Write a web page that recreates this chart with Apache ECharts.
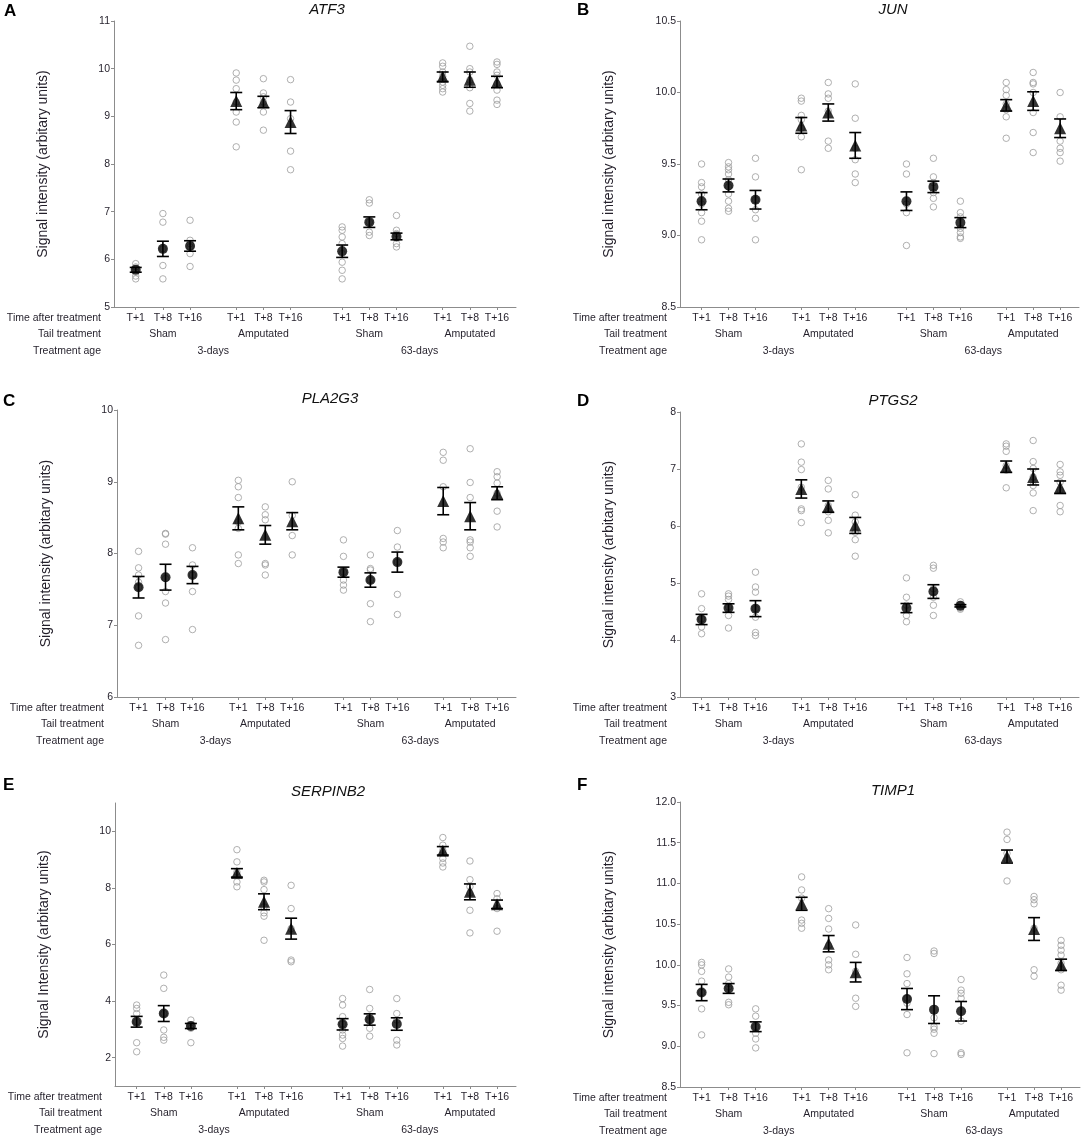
<!DOCTYPE html>
<html>
<head>
<meta charset="utf-8">
<script src="https://cdn.jsdelivr.net/npm/echarts@6/dist/echarts.min.js"></script>
<style>
  html, body { margin: 0; padding: 0; background: #fff; }
  #chart { width: 1084px; height: 1140px; }
</style>
</head>
<body>
<div id="chart"></div>
<script>
// x positions of the 12 groups (gaps between the 4 treatment blocks)
var positions = [1, 2, 3, 4.7, 5.7, 6.7, 8.6, 9.6, 10.6, 12.3, 13.3, 14.3];
var timeLabels = ['T+1', 'T+8', 'T+16', 'T+1', 'T+8', 'T+16', 'T+1', 'T+8', 'T+16', 'T+1', 'T+8', 'T+16'];
var tailPositions = [2, 5.7, 9.6, 13.3];
var tailLabels = ['Sham', 'Amputated', 'Sham', 'Amputated'];
var agePositions = [3.85, 11.45];
var ageLabels = ['3-days', '63-days'];
var amputated = [false, false, false, true, true, true, false, false, false, true, true, true];

// ATF3
var atf3Points = [
  [5.91, 5.84, 5.80, 5.73, 5.65, 5.59],
  [6.96, 6.78, 6.22, 5.87, 5.59],
  [6.82, 6.40, 6.33, 6.26, 6.12, 5.85],
  [9.91, 9.76, 9.58, 9.30, 9.09, 8.88, 8.36],
  [9.79, 9.49, 9.41, 9.30, 9.09, 8.71],
  [9.77, 9.30, 8.95, 8.27, 7.88],
  [6.68, 6.61, 6.47, 6.33, 6.12, 5.94, 5.77, 5.59],
  [7.25, 7.18, 6.78, 6.57, 6.50],
  [6.92, 6.61, 6.54, 6.47, 6.33, 6.26],
  [10.12, 10.05, 9.93, 9.84, 9.72, 9.65, 9.58, 9.51],
  [10.47, 10.00, 9.93, 9.76, 9.60, 9.27, 9.11],
  [10.14, 10.09, 9.93, 9.86, 9.69, 9.55, 9.34, 9.25]
];
var atf3Mean = [5.78, 6.22, 6.28, 9.32, 9.30, 8.88, 6.17, 6.78, 6.48, 9.83, 9.77, 9.72];
var atf3Se = [0.05, 0.16, 0.11, 0.18, 0.12, 0.24, 0.13, 0.11, 0.07, 0.10, 0.16, 0.12];

// JUN
var junPoints = [
  [9.50, 9.37, 9.34, 9.29, 9.22, 9.16, 9.10, 8.97],
  [9.51, 9.48, 9.46, 9.43, 9.39, 9.34, 9.29, 9.24, 9.19, 9.17],
  [9.54, 9.41, 9.25, 9.18, 9.12, 8.97],
  [9.96, 9.94, 9.84, 9.81, 9.75, 9.69, 9.46],
  [10.07, 9.99, 9.96, 9.87, 9.66, 9.61],
  [10.06, 9.82, 9.61, 9.53, 9.43, 9.37],
  [9.50, 9.43, 9.22, 9.16, 8.93],
  [9.54, 9.41, 9.37, 9.30, 9.26, 9.20],
  [9.24, 9.16, 9.13, 9.05, 9.02, 8.99, 8.98],
  [10.07, 10.02, 9.98, 9.92, 9.88, 9.83, 9.68],
  [10.14, 10.07, 10.06, 10.00, 9.86, 9.72, 9.58],
  [10.00, 9.83, 9.66, 9.61, 9.58, 9.52]
];
var junMean = [9.24, 9.35, 9.25, 9.77, 9.86, 9.63, 9.24, 9.34, 9.09, 9.91, 9.94, 9.75];
var junSe = [0.06, 0.045, 0.065, 0.055, 0.06, 0.09, 0.065, 0.04, 0.035, 0.04, 0.065, 0.065];

// PLA2G3
var pla2g3Points = [
  [8.03, 7.80, 7.70, 7.60, 7.53, 7.13, 6.72],
  [8.28, 8.27, 8.13, 7.65, 7.47, 7.31, 6.80],
  [8.08, 7.84, 7.70, 7.47, 6.94],
  [9.02, 8.93, 8.78, 8.44, 8.35, 7.98, 7.86],
  [8.65, 8.54, 8.47, 7.86, 7.84, 7.70],
  [9.00, 8.53, 8.25, 7.98],
  [8.19, 7.96, 7.74, 7.63, 7.56, 7.49],
  [7.98, 7.79, 7.77, 7.63, 7.30, 7.05],
  [8.32, 8.09, 7.88, 7.43, 7.15],
  [9.41, 9.30, 8.93, 8.21, 8.16, 8.08],
  [9.46, 8.99, 8.78, 8.19, 8.16, 8.08, 7.96],
  [9.14, 9.07, 8.98, 8.84, 8.59, 8.37]
];
var pla2g3Mean = [7.53, 7.67, 7.70, 8.49, 8.26, 8.45, 7.74, 7.63, 7.88, 8.73, 8.52, 8.84];
var pla2g3Se = [0.15, 0.18, 0.12, 0.16, 0.13, 0.12, 0.07, 0.10, 0.14, 0.19, 0.19, 0.09];

// PTGS2
var ptgs2Points = [
  [4.81, 4.55, 4.37, 4.23, 4.11],
  [4.81, 4.77, 4.71, 4.58, 4.43, 4.21],
  [5.19, 4.93, 4.84, 4.55, 4.40, 4.13, 4.08],
  [7.44, 7.12, 6.99, 6.68, 6.30, 6.27, 6.06],
  [6.80, 6.65, 6.36, 6.25, 6.10, 5.88],
  [6.55, 6.19, 6.07, 5.89, 5.76, 5.47],
  [5.09, 4.75, 4.61, 4.43, 4.32],
  [5.31, 5.26, 4.90, 4.75, 4.61, 4.43],
  [4.67, 4.62, 4.60, 4.56, 4.54],
  [7.44, 7.40, 7.31, 7.06, 6.98, 6.67],
  [7.50, 7.13, 7.01, 6.86, 6.71, 6.58, 6.27],
  [7.08, 6.95, 6.89, 6.77, 6.63, 6.36, 6.25]
];
var ptgs2Mean = [4.36, 4.56, 4.55, 6.65, 6.34, 6.01, 4.56, 4.85, 4.60, 7.04, 6.86, 6.68];
var ptgs2Se = [0.09, 0.075, 0.14, 0.16, 0.10, 0.14, 0.08, 0.12, 0.02, 0.10, 0.14, 0.11];

// SERPINB2
var serpinb2Points = [
  [3.86, 3.74, 3.56, 3.27, 2.53, 2.21],
  [4.92, 4.45, 3.56, 2.98, 2.72, 2.62],
  [3.33, 3.15, 3.04, 2.53],
  [9.35, 8.92, 8.56, 8.21, 8.04],
  [8.27, 8.21, 7.94, 7.33, 7.12, 7.00, 6.15],
  [8.09, 7.27, 6.56, 5.45, 5.39],
  [4.09, 3.86, 3.45, 3.19, 2.98, 2.80, 2.68, 2.41],
  [4.41, 3.74, 3.47, 3.33, 3.04, 2.76],
  [4.09, 3.56, 3.33, 2.62, 2.45],
  [9.78, 9.51, 9.33, 9.04, 8.88, 8.74],
  [8.95, 8.29, 8.04, 7.82, 7.21, 6.41],
  [7.80, 7.62, 7.39, 7.27, 6.47]
];
var serpinb2Mean = [3.27, 3.56, 3.12, 8.53, 7.51, 6.56, 3.18, 3.35, 3.19, 9.31, 7.86, 7.42];
var serpinb2Se = [0.19, 0.28, 0.09, 0.15, 0.28, 0.37, 0.20, 0.20, 0.22, 0.15, 0.28, 0.15];

// TIMP1
var timp1Points = [
  [10.03, 10.00, 9.92, 9.80, 9.66, 9.46, 9.14],
  [9.95, 9.85, 9.77, 9.73, 9.54, 9.51],
  [9.46, 9.37, 9.24, 9.16, 9.09, 8.98],
  [11.08, 10.92, 10.82, 10.55, 10.51, 10.45],
  [10.69, 10.57, 10.44, 10.24, 10.06, 10.00, 9.94],
  [10.49, 10.13, 9.92, 9.59, 9.49],
  [10.09, 9.89, 9.77, 9.59, 9.53, 9.39, 8.92],
  [10.17, 10.14, 9.35, 9.24, 9.21, 9.16, 8.91],
  [9.82, 9.69, 9.65, 9.59, 9.31, 8.92, 8.90],
  [11.63, 11.54, 11.37, 11.29, 11.03],
  [10.84, 10.80, 10.75, 10.45, 9.94, 9.86],
  [10.30, 10.24, 10.18, 10.12, 10.02, 9.94, 9.75, 9.69]
];
var timp1Mean = [9.66, 9.71, 9.24, 10.75, 10.26, 9.91, 9.58, 9.45, 9.43, 11.33, 10.44, 10.00];
var timp1Se = [0.10, 0.06, 0.06, 0.08, 0.10, 0.12, 0.13, 0.17, 0.12, 0.08, 0.14, 0.07];

var panels = [
  { gene: 'ATF3', letter: 'A', lx: 10, ly: 12, pts: atf3Points, mean: atf3Mean, se: atf3Se,
    left: 114, top: 21, width: 402, height: 286, yMin: 5, yMax: 11, yStep: 1, dec: 0,
    yName: 'Signal intensity (arbitary units)' },
  { gene: 'JUN', letter: 'B', lx: 583, ly: 11, pts: junPoints, mean: junMean, se: junSe,
    left: 680, top: 21, width: 399, height: 286, yMin: 8.5, yMax: 10.5, yStep: 0.5, dec: 1,
    yName: 'Signal intensity (arbitary units)' },
  { gene: 'PLA2G3', letter: 'C', lx: 9, ly: 402, pts: pla2g3Points, mean: pla2g3Mean, se: pla2g3Se,
    left: 117, top: 410, width: 399, height: 287, yMin: 6, yMax: 10, yStep: 1, dec: 0,
    yName: 'Signal intensity (arbitary units)' },
  { gene: 'PTGS2', letter: 'D', lx: 583, ly: 402, pts: ptgs2Points, mean: ptgs2Mean, se: ptgs2Se,
    left: 680, top: 412, width: 399, height: 285, yMin: 3, yMax: 8, yStep: 1, dec: 0,
    yName: 'Signal intensity (arbitary units)' },
  { gene: 'SERPINB2', letter: 'E', lx: 9, ly: 786, pts: serpinb2Points, mean: serpinb2Mean, se: serpinb2Se,
    left: 115, top: 803, width: 401, height: 283, yMin: 1, yMax: 11, yTicks: [2, 4, 6, 8, 10], dec: 0,
    yName: 'Signal Intensity (arbitary units)' },
  { gene: 'TIMP1', letter: 'F', lx: 583, ly: 786, pts: timp1Points, mean: timp1Mean, se: timp1Se,
    left: 680, top: 802, width: 400, height: 285, yMin: 8.5, yMax: 12, yStep: 0.5, dec: 1,
    yName: 'Signal intensity (arbitary units)' }
];

var FONT = 'Liberation Sans';
var TXT = '#231f2a';
var AXIS = '#8c8c8c';

function nearest(list, v) {
  var best = 0;
  for (var i = 1; i < list.length; i++) {
    if (Math.abs(list[i] - v) < Math.abs(list[best] - v)) best = i;
  }
  return best;
}

function renderErr(params, api) {
  var x = api.value(0), m = api.value(1), s = api.value(2);
  var hi = api.coord([x, m + s]);
  var lo = api.coord([x, m - s]);
  var hw = 6;
  var st = { stroke: '#000', lineWidth: 1.6 };
  return {
    type: 'group',
    children: [
      { type: 'line', shape: { x1: hi[0], y1: hi[1], x2: lo[0], y2: lo[1] }, style: st },
      { type: 'line', shape: { x1: hi[0] - hw, y1: hi[1], x2: hi[0] + hw, y2: hi[1] }, style: st },
      { type: 'line', shape: { x1: lo[0] - hw, y1: lo[1], x2: lo[0] + hw, y2: lo[1] }, style: st }
    ]
  };
}

var grids = [], xAxes = [], yAxes = [], series = [], graphics = [];

panels.forEach(function (p, g) {
  grids.push({ left: p.left, top: p.top, width: p.width, height: p.height });

  var labelStyle = { fontFamily: FONT, fontSize: 10.5, color: TXT };
  xAxes.push({
    gridIndex: g, type: 'value', min: 0.2, max: 15, position: 'bottom',
    axisLine: { show: true, onZero: false, lineStyle: { color: AXIS, width: 1 } },
    axisTick: { show: true, customValues: positions, length: 3, lineStyle: { color: AXIS } },
    splitLine: { show: false },
    axisLabel: Object.assign({ customValues: positions, margin: 6,
      formatter: function (v) { return timeLabels[nearest(positions, v)]; } }, labelStyle)
  });
  xAxes.push({
    gridIndex: g, type: 'value', min: 0.2, max: 15, position: 'bottom', offset: 17,
    axisLine: { show: false }, axisTick: { show: false }, splitLine: { show: false },
    axisLabel: Object.assign({ customValues: tailPositions, margin: 5,
      formatter: function (v) { return tailLabels[nearest(tailPositions, v)]; } }, labelStyle)
  });
  xAxes.push({
    gridIndex: g, type: 'value', min: 0.2, max: 15, position: 'bottom', offset: 34,
    axisLine: { show: false }, axisTick: { show: false }, splitLine: { show: false },
    axisLabel: Object.assign({ customValues: agePositions, margin: 5,
      formatter: function (v) { return ageLabels[nearest(agePositions, v)]; } }, labelStyle)
  });

  var y = {
    gridIndex: g, type: 'value', min: p.yMin, max: p.yMax,
    name: p.yName, nameLocation: 'middle', nameGap: 64,
    nameTextStyle: { fontFamily: FONT, fontSize: 14, color: TXT },
    axisLine: { show: true, onZero: false, lineStyle: { color: AXIS, width: 1 } },
    axisTick: { show: true, length: 3, lineStyle: { color: AXIS } },
    splitLine: { show: false },
    axisLabel: { fontFamily: FONT, fontSize: 10.5, color: TXT, margin: 4,
      formatter: (function (d) { return function (v) { return v.toFixed(d); }; })(p.dec) }
  };
  if (p.yTicks) {
    y.axisTick.customValues = p.yTicks;
    y.axisLabel.customValues = p.yTicks;
  } else {
    y.interval = p.yStep;
  }
  yAxes.push(y);

  var raw = [];
  p.pts.forEach(function (arr, i) {
    arr.forEach(function (v) { raw.push([positions[i], v]); });
  });
  series.push({
    type: 'scatter', xAxisIndex: g * 3, yAxisIndex: g, data: raw,
    symbol: 'circle', symbolSize: 6.5, z: 2, silent: true,
    itemStyle: { color: 'rgba(255,255,255,0)', borderColor: '#9c9c9c', borderWidth: 1 }
  });

  var errData = p.mean.map(function (m, i) { return [positions[i], m, p.se[i]]; });
  series.push({
    type: 'custom', xAxisIndex: g * 3, yAxisIndex: g, data: errData,
    renderItem: renderErr, z: 3, silent: true
  });

  var meanData = p.mean.map(function (m, i) {
    return amputated[i]
      ? { value: [positions[i], m], symbol: 'triangle', symbolSize: 12 }
      : { value: [positions[i], m], symbol: 'circle', symbolSize: 10 };
  });
  series.push({
    type: 'scatter', xAxisIndex: g * 3, yAxisIndex: g, data: meanData, z: 4, silent: true,
    itemStyle: { color: '#000' }
  });

  // panel letter and gene title
  graphics.push({ type: 'text', left: p.lx - 6, top: p.ly - 9,
    style: { text: p.letter, font: 'bold 17px "' + FONT + '"', fill: '#000' } });
  graphics.push({ type: 'text', x: p.left + 213, y: p.top - 11,
    style: { text: p.gene, font: 'italic 15px "' + FONT + '"', fill: '#111',
      align: 'center', verticalAlign: 'middle' } });

  // row titles at the left of the axis labels
  var rows = ['Time after treatment', 'Tail treatment', 'Treatment age'];
  var dy = [11, 27, 44];
  rows.forEach(function (r, k) {
    graphics.push({ type: 'text', x: p.left - 13, y: p.top + p.height + dy[k],
      style: { text: r, font: '10.5px "' + FONT + '"', fill: TXT,
        align: 'right', verticalAlign: 'middle' } });
  });
});

var chart = echarts.init(document.getElementById('chart'), null, { renderer: 'canvas' });
chart.setOption({
  animation: false,
  backgroundColor: '#fff',
  grid: grids,
  xAxis: xAxes,
  yAxis: yAxes,
  series: series,
  graphic: graphics
});
window.addEventListener('resize', chart.resize);
</script>
</body>
</html>
